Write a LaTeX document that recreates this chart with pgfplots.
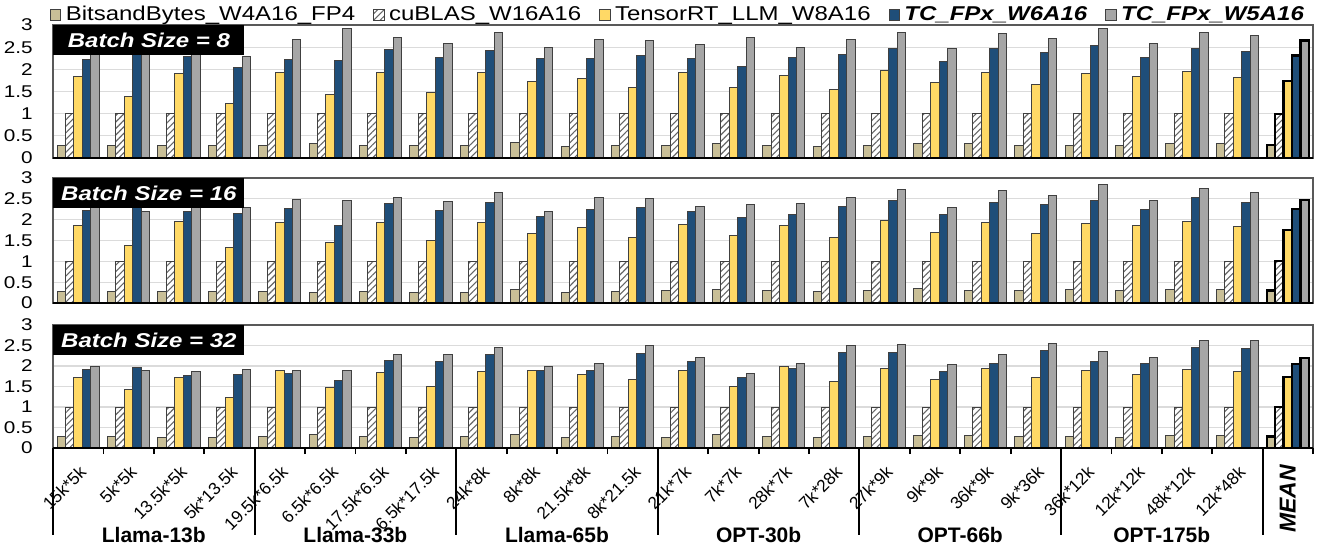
\documentclass[border=0pt]{standalone}
\usepackage{fontspec}
\setmainfont{Liberation Sans}
\usepackage{graphicx}
\usepackage{pgfplots}
\usepackage{pgfplotstable}
\pgfplotsset{compat=1.18}
\usetikzlibrary{patterns.meta}
\definecolor{cTan}{RGB}{201,191,151}
\definecolor{cYel}{RGB}{255,217,102}
\definecolor{cBlu}{RGB}{31,78,121}
\definecolor{cGry}{RGB}{166,166,166}
\newcommand\hs[1]{\scalebox{1.2}[1]{#1}}

% columns: i  BitsandBytes  cuBLAS  TensorRT  W6A16  W5A16
\pgfplotstableread{
i a b c d e
0 0.29 1 1.84 2.22 2.45
1 0.29 1 1.39 2.55 2.45
2 0.29 1 1.90 2.28 2.45
3 0.28 1 1.24 2.04 2.29
4 0.28 1 1.92 2.22 2.68
5 0.32 1 1.43 2.19 2.92
6 0.28 1 1.92 2.44 2.71
7 0.28 1 1.48 2.26 2.59
8 0.29 1 1.92 2.42 2.82
9 0.34 1 1.72 2.24 2.49
10 0.27 1 1.80 2.25 2.68
11 0.29 1 1.59 2.31 2.65
12 0.28 1 1.92 2.25 2.57
13 0.32 1 1.58 2.07 2.71
14 0.29 1 1.86 2.26 2.50
15 0.27 1 1.55 2.34 2.68
16 0.29 1 1.97 2.47 2.82
17 0.32 1 1.71 2.18 2.46
18 0.32 1 1.92 2.48 2.81
19 0.29 1 1.65 2.38 2.70
20 0.29 1 1.91 2.53 2.93
21 0.28 1 1.83 2.26 2.58
22 0.32 1 1.95 2.47 2.82
23 0.32 1 1.81 2.41 2.77
24 0.29 1 1.74 2.31 2.65
}\tabA

\pgfplotstableread{
i a b c d e
0 0.28 1 1.87 2.22 2.40
1 0.28 1 1.38 2.45 2.19
2 0.28 1 1.95 2.20 2.36
3 0.28 1 1.34 2.14 2.30
4 0.27 1 1.92 2.26 2.49
5 0.26 1 1.44 1.86 2.45
6 0.27 1 1.93 2.38 2.54
7 0.26 1 1.50 2.21 2.44
8 0.26 1 1.92 2.42 2.66
9 0.33 1 1.66 2.07 2.20
10 0.26 1 1.80 2.25 2.52
11 0.28 1 1.58 2.28 2.50
12 0.29 1 1.89 2.19 2.32
13 0.32 1 1.63 2.05 2.37
14 0.29 1 1.87 2.13 2.39
15 0.28 1 1.56 2.31 2.52
16 0.29 1 1.98 2.46 2.72
17 0.34 1 1.70 2.13 2.30
18 0.31 1 1.92 2.41 2.71
19 0.29 1 1.67 2.36 2.59
20 0.33 1 1.90 2.47 2.85
21 0.29 1 1.85 2.25 2.45
22 0.33 1 1.96 2.52 2.75
23 0.33 1 1.83 2.42 2.66
24 0.30 1 1.75 2.26 2.48
}\tabB

\pgfplotstableread{
i a b c d e
0 0.27 1 1.73 1.92 2.00
1 0.28 1 1.42 1.97 1.89
2 0.25 1 1.71 1.76 1.86
3 0.25 1 1.24 1.80 1.92
4 0.27 1 1.89 1.81 1.90
5 0.32 1 1.48 1.64 1.90
6 0.27 1 1.83 2.13 2.27
7 0.26 1 1.51 2.10 2.28
8 0.29 1 1.86 2.28 2.44
9 0.33 1 1.88 1.90 2.00
10 0.25 1 1.80 1.89 2.05
11 0.28 1 1.68 2.31 2.49
12 0.26 1 1.88 2.12 2.20
13 0.32 1 1.51 1.71 1.81
14 0.29 1 1.99 1.94 2.07
15 0.26 1 1.63 2.33 2.50
16 0.27 1 1.93 2.33 2.52
17 0.31 1 1.67 1.86 2.04
18 0.30 1 1.93 2.07 2.28
19 0.28 1 1.73 2.37 2.56
20 0.28 1 1.90 2.12 2.36
21 0.26 1 1.79 2.05 2.21
22 0.30 1 1.91 2.46 2.62
23 0.30 1 1.86 2.43 2.63
24 0.28 1 1.73 2.04 2.19
}\tabC

\pgfplotsset{
  panel/.style={
    scale only axis, width=630pt, anchor=north west,
    xmin=-0.5, xmax=24.5, ymin=0, ymax=3,
    ybar, bar width=0.167,
    ytick={0,0.5,1,1.5,2,2.5,3},
    ymajorgrids, grid style={draw=gray!28, line width=0.6pt},
    xtick=\empty,
    major tick length=0pt,
    axis line style={draw=black!65, line width=0.6pt},
    yticklabel style={font=\fontsize{8.5}{10}\selectfont, anchor=east, inner sep=0pt, xshift=-10pt},
    yticklabel={\scalebox{1.22}[1]{\pgfmathprintnumber[assume math mode=true]{\tick}}},
  },
  bA/.style={fill=cTan, draw=black!75, line width=0.5pt, bar shift=-0.334},
  bB/.style={fill=white, draw=black!75, line width=0.5pt, bar shift=-0.167,
     postaction={pattern={Lines[angle=45,distance=2.3pt,line width=0.55pt]}, pattern color=black!60}},
  bC/.style={fill=cYel, draw=black!75, line width=0.5pt, bar shift=0},
  bD/.style={fill=cBlu, draw=black!75, line width=0.5pt, bar shift=0.167},
  bE/.style={fill=cGry, draw=black!75, line width=0.5pt, bar shift=0.334},
  mean/.style={draw=black, line width=1.1pt, forget plot, restrict x to domain=23.5:25},
  main/.style={restrict x to domain=-1:23.5},
}

\newcommand\meanbars[1]{%
  \addplot[bA,mean] table[x=i,y=a]{#1};
  \addplot[bB,mean] table[x=i,y=b]{#1};
  \addplot[bC,mean] table[x=i,y=c]{#1};
  \addplot[bD,mean] table[x=i,y=d]{#1};
  \addplot[bE,mean] table[x=i,y=e]{#1};
}
\newcommand\mainbars[1]{%
  \addplot[bA,main,forget plot] table[x=i,y=a]{#1};
  \addplot[bB,main,forget plot] table[x=i,y=b]{#1};
  \addplot[bC,main,forget plot] table[x=i,y=c]{#1};
  \addplot[bD,main,forget plot] table[x=i,y=d]{#1};
  \addplot[bE,main,forget plot] table[x=i,y=e]{#1};
}

\begin{document}
\begin{tikzpicture}
\useasboundingbox (0,0) rectangle (659pt,-275pt);

% ---------- Panel 1 ----------
\begin{axis}[panel, name=p1, at={(26.5pt,-12.5pt)}, height=66.5pt,
  legend columns=5,
  legend image code/.code={\draw[#1] (0pt,-2.6pt) rectangle (5.2pt,2.6pt);},
  legend style={at={(0,1)}, anchor=west, xshift=-1.5pt, yshift=4.9pt,
    draw=none, fill=none, inner sep=0pt, outer sep=0pt,
    font=\fontsize{10}{12}\selectfont,
    nodes={inner sep=0pt},
    column sep=2.2pt,
    /tikz/every even column/.append style={column sep=9pt}},
]
\addplot[bA,main] table[x=i,y=a]{\tabA}; \addlegendentry{\hs{BitsandBytes\_W4A16\_FP4}}
\addplot[bB,main] table[x=i,y=b]{\tabA}; \addlegendentry{\hs{cuBLAS\_W16A16}}
\addplot[bC,main] table[x=i,y=c]{\tabA}; \addlegendentry{\hs{TensorRT\_LLM\_W8A16}}
\addplot[bD,main] table[x=i,y=d]{\tabA}; \addlegendentry{\hs{\textbf{\textit{TC\_FPx\_W6A16}}}}
\addplot[bE,main] table[x=i,y=e]{\tabA}; \addlegendentry{\hs{\textbf{\textit{TC\_FPx\_W5A16}}}}
\meanbars{\tabA}
\end{axis}
\draw[black, line width=1.1pt] (p1.south west) -- (p1.south east);
\node[fill=black, text=white, anchor=north west, minimum width=95.5pt, minimum height=15pt,
  inner sep=0pt, font=\fontsize{10}{12}\selectfont\bfseries\itshape] at (p1.north west) {\hs{Batch Size = 8}};

% ---------- Panel 2 ----------
\begin{axis}[panel, name=p2, at={(26.5pt,-89pt)}, height=62.5pt]
\mainbars{\tabB}
\meanbars{\tabB}
\end{axis}
\draw[black, line width=1.1pt] (p2.south west) -- (p2.south east);
\node[fill=black, text=white, anchor=north west, minimum width=95.5pt, minimum height=15pt,
  inner sep=0pt, font=\fontsize{10}{12}\selectfont\bfseries\itshape] at (p2.north west) {\hs{Batch Size = 16}};

% ---------- Panel 3 ----------
\begin{axis}[panel, name=p3, at={(26.5pt,-162.5pt)}, height=61.5pt,
  clip=false,
  xtick={0,...,23},
  xtick pos=bottom,
  xticklabels={15k*5k, 5k*5k, 13.5k*5k, 5k*13.5k, 19.5k*6.5k, 6.5k*6.5k, 17.5k*6.5k, 6.5k*17.5k,
    24k*8k, 8k*8k, 21.5k*8k, 8k*21.5k, 21k*7k, 7k*7k, 28k*7k, 7k*28k,
    27k*9k, 9k*9k, 36k*9k, 9k*36k, 36k*12k, 12k*12k, 48k*12k, 12k*48k},
  xticklabel style={font=\fontsize{8.6}{10}\selectfont, inner sep=0pt, yshift=-10.5pt, xshift=2.5pt, rotate=45, anchor=east},
  extra x ticks={-0.5,0.5,...,24.5},
  extra x tick labels={},
  extra x tick style={major tick length=3pt, tick align=outside, tick style={draw=black, line width=0.9pt}},
]
\mainbars{\tabC}
\meanbars{\tabC}
\pgfplotsinvokeforeach{-0.5,3.5,7.5,11.5,15.5,19.5,23.5}{
  \draw[black, line width=1pt] (axis cs:#1,0) -- ([yshift=-43.5pt]axis cs:#1,0);
}
\node[font=\fontsize{10.5}{12}\selectfont\bfseries, anchor=base] at ([yshift=-47pt]axis cs:1.5,0) {Llama-13b};
\node[font=\fontsize{10.5}{12}\selectfont\bfseries, anchor=base] at ([yshift=-47pt]axis cs:5.5,0) {Llama-33b};
\node[font=\fontsize{10.5}{12}\selectfont\bfseries, anchor=base] at ([yshift=-47pt]axis cs:9.5,0) {Llama-65b};
\node[font=\fontsize{10.5}{12}\selectfont\bfseries, anchor=base] at ([yshift=-47pt]axis cs:13.5,0) {OPT-30b};
\node[font=\fontsize{10.5}{12}\selectfont\bfseries, anchor=base] at ([yshift=-47pt]axis cs:17.5,0) {OPT-66b};
\node[font=\fontsize{10.5}{12}\selectfont\bfseries, anchor=base] at ([yshift=-47pt]axis cs:21.5,0) {OPT-175b};
\node[font=\fontsize{11.5}{13}\selectfont\bfseries\itshape, rotate=90] at ([yshift=-25.5pt]axis cs:24,0) {MEAN};
\end{axis}
\draw[black, line width=1.1pt] (p3.south west) -- (p3.south east);
\node[fill=black, text=white, anchor=north west, minimum width=95.5pt, minimum height=15pt,
  inner sep=0pt, font=\fontsize{10}{12}\selectfont\bfseries\itshape] at (p3.north west) {\hs{Batch Size = 32}};
\end{tikzpicture}
\end{document}
